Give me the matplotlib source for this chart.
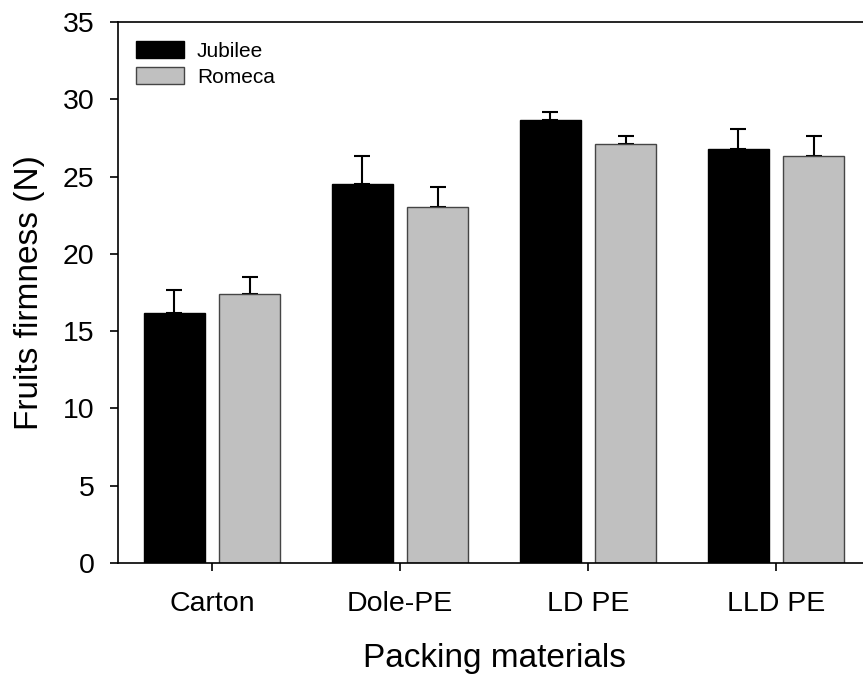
import matplotlib
matplotlib.use("Agg")
import matplotlib.pyplot as plt
import numpy as np

plt.rcParams['font.family'] = ['Liberation Sans', 'DejaVu Sans']

categories = ["Carton", "Dole-PE", "LD PE", "LLD PE"]
jubilee = [16.15, 24.55, 28.65, 26.8]
jubilee_err = [1.5, 1.8, 0.55, 1.3]
romeca = [17.4, 23.0, 27.1, 26.35]
romeca_err = [1.1, 1.3, 0.55, 1.3]
yticks = [0, 5, 10, 15, 20, 25, 30, 35]

fig = plt.figure(figsize=(8.63, 6.74), dpi=100)
ax = fig.add_axes([118/863, 111/674, 752/863, 541/674])

x = np.arange(len(categories))
w = 0.325
ax.bar(x - 0.2, jubilee, w, color='black', edgecolor='black', linewidth=1,
       label='Jubilee', zorder=2)
ax.bar(x + 0.2, romeca, w, color='#c0c0c0', edgecolor='#454545', linewidth=1,
       label='Romeca', zorder=2)
ax.errorbar(x - 0.2, jubilee, yerr=[np.zeros(4), jubilee_err], fmt='none',
            ecolor='black', elinewidth=1.5, capsize=6, capthick=1.5, zorder=1)
ax.errorbar(x + 0.2, romeca, yerr=[np.zeros(4), romeca_err], fmt='none',
            ecolor='black', elinewidth=1.5, capsize=6, capthick=1.5, zorder=1)

ax.set_xlim(-0.5, 3.5)
ax.set_ylim(0, 35)
ax.set_yticks(yticks)
ax.set_xticks(x)
ax.set_xticklabels(categories)
ax.tick_params(axis='both', labelsize=20.5, direction='out', length=6, width=1.2)
ax.tick_params(axis='x', pad=14)
ax.tick_params(axis='y', pad=11)
for s in ['left', 'bottom', 'top']:
    ax.spines[s].set_linewidth(1.2)
ax.spines['right'].set_visible(False)

ax.set_xlabel("Packing materials", fontsize=24, labelpad=19)
ax.set_ylabel("Fruits firmness (N)", fontsize=24, labelpad=13)

leg = ax.legend(loc='upper left', frameon=False, fontsize=15,
                handlelength=2.3, handleheight=0.85, handletextpad=0.62,
                labelspacing=0.3, bbox_to_anchor=(0.0239, 0.964),
                borderaxespad=0.0, borderpad=0.0)

fig.savefig("out.png", dpi=100)
